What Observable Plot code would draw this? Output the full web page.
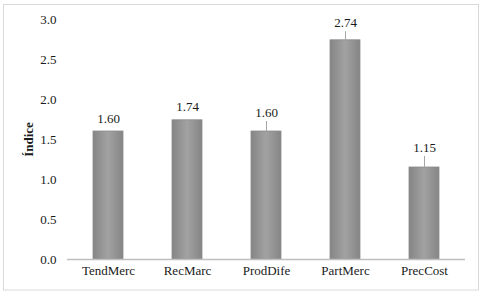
<!DOCTYPE html>
<html><head><meta charset="utf-8">
<script src="https://cdn.jsdelivr.net/npm/d3@7"></script>
<script src="https://cdn.jsdelivr.net/npm/@observablehq/plot@0.6"></script>
<style>
body{margin:0;background:#fff}
#chart svg, #chart svg text{font-family:"Liberation Serif", "Times New Roman", serif !important;}
</style>
</head><body><div id="chart"></div>
<script>
const categories = ["TendMerc", "RecMarc", "ProdDife", "PartMerc", "PrecCost"];
const values = [1.60, 1.74, 1.60, 2.74, 1.15];
const yTicks = [0, 0.5, 1.0, 1.5, 2.0, 2.5, 3.0];
const yLabel = "Índice";

const data = categories.map((c, i) => ({c, v: values[i]}));

// label placement (pixels above bar top) and leader line lengths
const labelGap = {TendMerc: 13, RecMarc: 13, ProdDife: 19, PartMerc: 17, PrecCost: 20};
const leaderLen = {ProdDife: 10, PartMerc: 8.5, PrecCost: 11};

const W = 482, H = 293, mT = 19, mB = 34, mL = 67, mR = 17;
const ppu = (H - mT - mB) / 3; // pixels per unit
const ff = "Liberation Serif";

const chart = Plot.plot({
  width: W, height: H,
  marginTop: mT, marginBottom: mB, marginLeft: mL, marginRight: mR,
  style: {fontFamily: ff, fontSize: "13px", color: "#1a1a1a", background: "#fff"},
  x: {domain: categories, paddingInner: 0.62, paddingOuter: 0.31, label: null},
  y: {domain: [0, 3], label: null},
  marks: [
    Plot.axisY({ticks: yTicks, tickFormat: d => d.toFixed(1), tickSize: 0, tickPadding: 11, label: null, fontSize: 13, fontFamily: ff}),
    Plot.axisX({tickSize: 0, tickPadding: 6, label: null, fontSize: 13, fontFamily: ff}),
    Plot.barY(data, {x: "c", y: "v", fill: "url(#barGrad)", stroke: "#8c8c8c", strokeWidth: 0.8}),
    Plot.ruleY([0], {stroke: "#bfbfbf", strokeWidth: 1.5}),
    Plot.ruleX(data.filter(d => leaderLen[d.c]), {x: "c", y1: "v", y2: d => d.v + leaderLen[d.c] / ppu, stroke: "#a6a6a6", strokeWidth: 1}),
    Plot.text(data, {x: "c", y: d => d.v + labelGap[d.c] / ppu, text: d => d.v.toFixed(2), lineAnchor: "middle", textAnchor: "middle", fontSize: 13, fontFamily: ff, fill: "#1a1a1a"}),
    Plot.text([yLabel], {frameAnchor: "left", dx: -39, rotate: -90, fontWeight: "bold", fontSize: 13, fontFamily: ff, fill: "#1a1a1a", textAnchor: "middle", lineAnchor: "middle"})
  ]
});

const svg = d3.select(chart);
const defs = svg.insert("defs", ":first-child");
const g = defs.append("linearGradient").attr("id", "barGrad").attr("x1", "0").attr("x2", "1").attr("y1", "0").attr("y2", "0");
g.append("stop").attr("offset", "0%").attr("stop-color", "#858585");
g.append("stop").attr("offset", "50%").attr("stop-color", "#a2a2a2");
g.append("stop").attr("offset", "100%").attr("stop-color", "#858585");
svg.append("rect").attr("x", 3.5).attr("y", 4.5).attr("width", 475).attr("height", 285.5)
  .attr("fill", "none").attr("stroke", "#d9d9d9").attr("stroke-width", 1);

document.getElementById("chart").appendChild(chart);
</script>
</body></html>
